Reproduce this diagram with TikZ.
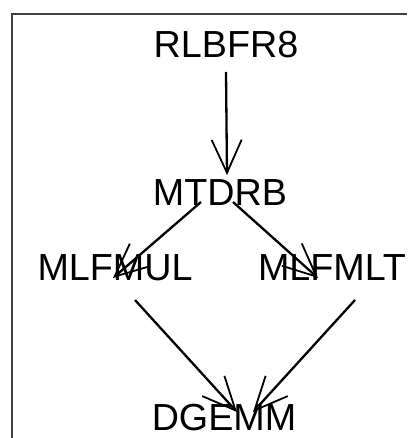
\documentclass[tikz,border=0pt]{standalone}
\usepackage{fontspec}
\setmainfont{Liberation Sans}
\usetikzlibrary{arrows.meta,calc}
\begin{document}
\begin{tikzpicture}[x=1pt,y=1pt,
  lbl/.style={anchor=base,inner sep=0pt,font=\fontsize{37.7}{40}\selectfont},
  edge/.style={line width=2.3pt,-{Straight Barb[length=33pt,width=30pt,line width=1.8pt]}}]
\useasboundingbox (0,0) rectangle (407,-438);
\draw[line width=1.3pt,black!75] (12,-438) -- (12,-14) -- (407,-14);
\node[lbl] (r) at (226,-58) {RLBFR8};
\node[lbl] (m) at (220,-205) {MTDRB};
\node[lbl] (u) at (115,-280) {MLFMUL};
\node[lbl] (t) at (332,-280) {MLFMLT};
\node[lbl] (d) at (224,-430) {DGEMM};
\draw[edge] ($(r.base)+(0,-14)$) -- ($(m.base)+(7,30)$);
\draw[edge] ($(m.base)+(-19,3)$) -- ($(u.base)+(-2,2)$);
\draw[edge] ($(m.base)+(13,3)$) -- ($(t.base)+(-14,2)$);
\draw[edge] ($(u.base)+(20,-20)$) -- ($(d.base)+(13,18)$);
\draw[edge] ($(t.base)+(23,-20)$) -- ($(d.base)+(29,18)$);
\end{tikzpicture}
\end{document}
